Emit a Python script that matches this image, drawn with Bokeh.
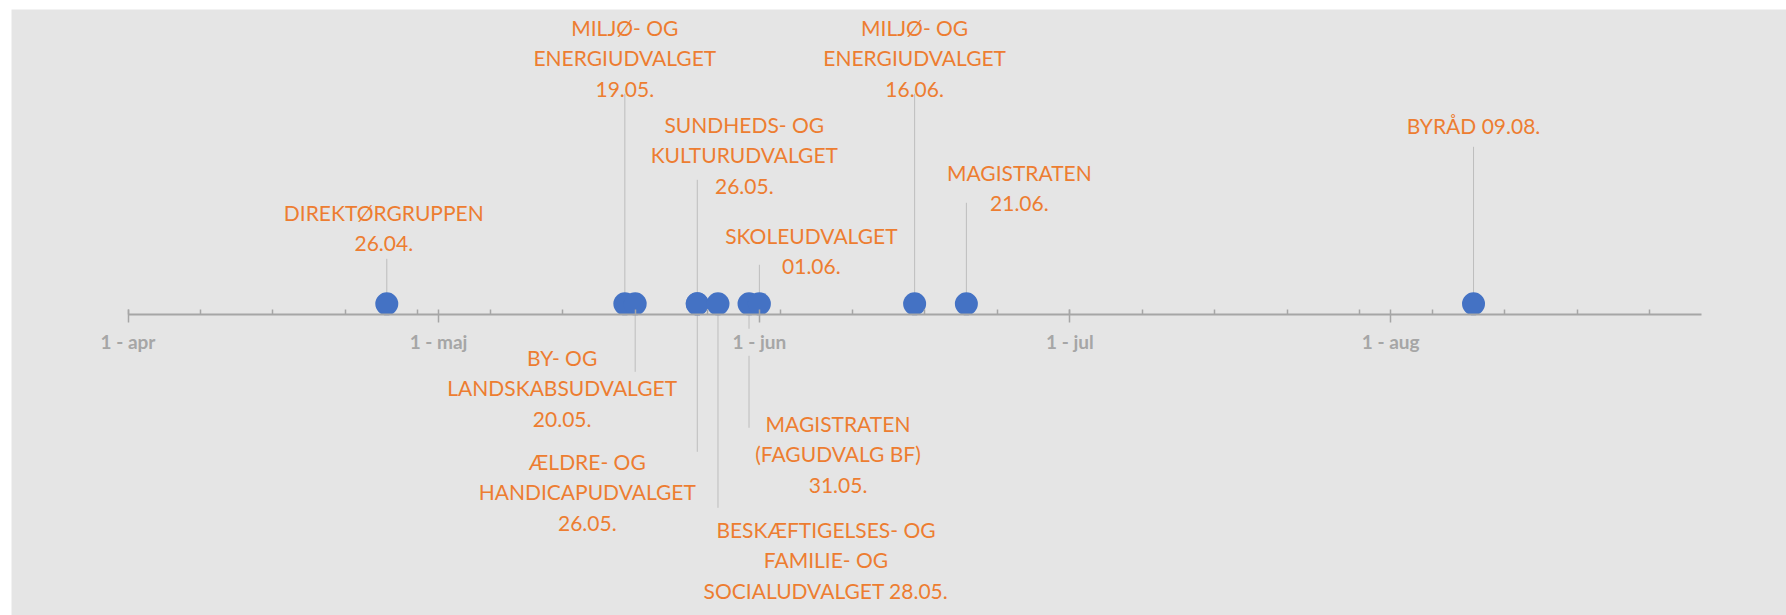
import pandas as pd
from bokeh.plotting import figure
from bokeh.models import Range1d, FixedTicker, LinearAxis, ColumnDataSource
from bokeh.core.properties import value
from bokeh.embed import file_html
from bokeh.resources import INLINE

# ---------------- data ----------------
event_dates = ["2021-04-26", "2021-05-19", "2021-05-20", "2021-05-26", "2021-05-26",
               "2021-05-28", "2021-05-31", "2021-06-01", "2021-06-16", "2021-06-21",
               "2021-08-09"]
event_labels = [
    "DIREKTØRGRUPPEN\n26.04.",
    "MILJØ- OG\nENERGIUDVALGET\n19.05.",
    "BY- OG\nLANDSKABSUDVALGET\n20.05.",
    "SUNDHEDS- OG\nKULTURUDVALGET\n26.05.",
    "ÆLDRE- OG\nHANDICAPUDVALGET\n26.05.",
    "BESKÆFTIGELSES- OG\nFAMILIE- OG\nSOCIALUDVALGET 28.05.",
    "MAGISTRATEN\n(FAGUDVALG BF)\n31.05.",
    "SKOLEUDVALGET\n01.06.",
    "MILJØ- OG\nENERGIUDVALGET\n16.06.",
    "MAGISTRATEN\n21.06.",
    "BYRÅD 09.08.",
]
# height of each leader line (positive = above the axis, negative = below)
leader_heights = [56, 221, -57, 135, -137, -193, -113, 50, 221, 112, 168]
# level of the middle of each label block
label_levels = [87, 257, -73, 160, -177, -245, -139, 64, 257, 127, 189]

tick_dates = ["2021-04-01", "2021-05-01", "2021-06-01", "2021-07-01", "2021-08-01"]
tick_labels = ["1 - apr", "1 - maj", "1 - jun", "1 - jul", "1 - aug"]
axis_start = "2021-04-01"
axis_end = "2021-08-31"

# ---------------- layout / style ----------------
label_shift_px = [-3, 0, -73, 47, -110, 108, 89, 52, 0, 53, 0]
DAY = 86400000.0
BG = "#e5e5e5"
ORANGE = "#ED7D31"
BLUE = "#4472C4"
AXIS_GRAY = "#a6a6a6"
LEADER_GRAY = "#bdbdbd"
DOT_SIZE = 23
GAP = (-14, -41)   # band of the tick labels that the leader lines do not cross


def ms(d):
    return float(pd.Timestamp(d).value // 10**6)


x = [ms(d) for d in event_dates]
major = [ms(d) for d in tick_dates]
a0, a1 = ms(axis_start), ms(axis_end)
minor = []
t = a0
while t <= a1:
    minor.append(t)
    t += 7 * DAY

p = figure(width=1786, height=615, output_backend="svg", toolbar_location=None,
           x_axis_location=None, y_axis_location=None,
           x_range=Range1d(a0 - 11.26 * DAY, a1 + 8.24 * DAY),
           y_range=Range1d(-300.7, 305.3),
           min_border_left=11, min_border_top=9, min_border_right=0, min_border_bottom=0,
           background_fill_color=BG, border_fill_color="white",
           outline_line_color=None)
p.xgrid.visible = False
p.ygrid.visible = False

# leader lines
sx0, sy0, sx1, sy1 = [], [], [], []
for xi, h in zip(x, leader_heights):
    near_tick = min(abs(xi - m) for m in major) < 3 * DAY
    if h < 0 and near_tick:
        sx0 += [xi, xi]; sx1 += [xi, xi]
        sy0 += [0, GAP[1]]; sy1 += [GAP[0], h]
    else:
        sx0.append(xi); sx1.append(xi); sy0.append(0); sy1.append(h)
p.segment(x0=sx0, y0=sy0, x1=sx1, y1=sy1, line_color=LEADER_GRAY, line_width=1)

# axis in the middle of the chart
ax = LinearAxis(fixed_location=0,
                ticker=FixedTicker(ticks=major, minor_ticks=minor),
                major_label_overrides={m: l for m, l in zip(major, tick_labels)},
                bounds=(a0, a1),
                axis_line_color=AXIS_GRAY, axis_line_width=2,
                major_tick_line_color=AXIS_GRAY, major_tick_line_width=1.5,
                major_tick_in=5, major_tick_out=8,
                minor_tick_line_color=AXIS_GRAY, minor_tick_line_width=1.5,
                minor_tick_in=5, minor_tick_out=0,
                major_label_text_color=AXIS_GRAY,
                major_label_text_font="Lato", major_label_text_font_style="bold",
                major_label_text_font_size="19px", major_label_standoff=7)
p.add_layout(ax, "below")

# dots
p.scatter(x=x, y=[DOT_SIZE / 2 - 0.5] * len(x), size=DOT_SIZE, fill_color=BLUE,
          line_color=BLUE, line_width=0)

# labels
src = ColumnDataSource(dict(x=x, y=label_levels, text=event_labels, dx=label_shift_px))
p.text(x="x", y="y", text="text", x_offset="dx", source=src,
       text_align="center", text_baseline="middle",
       text_font=value("Lato"), text_font_size=value("21px"),
       text_line_height=1.215, text_color=ORANGE)

open("out.html", "w").write(file_html(p, INLINE))
